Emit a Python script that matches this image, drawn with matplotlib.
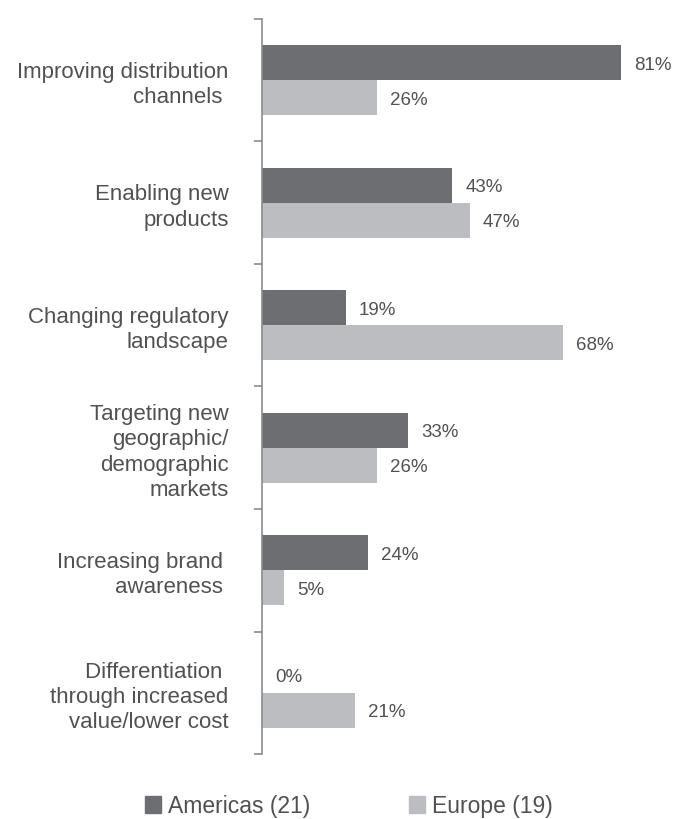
import matplotlib
matplotlib.use("Agg")
import matplotlib.pyplot as plt
from matplotlib.patches import Patch

plt.rcParams['font.family'] = ['Liberation Sans', 'DejaVu Sans']

categories = ["Improving distribution\nchannels ",
              "Enabling new\nproducts",
              "Changing regulatory\nlandscape",
              "Targeting new\ngeographic/\ndemographic\nmarkets",
              "Increasing brand \nawareness ",
              "Differentiation \nthrough increased\nvalue/lower cost"]
americas = [81, 43, 19, 33, 24, 0]
europe = [26, 47, 68, 26, 5, 21]
series_names = ["Americas (21)", "Europe (19)"]

dark = "#6d6e71"
light = "#bcbdc0"
txt = "#505153"

W, H = 676, 819
fig = plt.figure(figsize=(W / 100, H / 100), dpi=100)
ax = fig.add_axes([262 / W, (H - 754) / H, (W - 262) / W, 735 / H])

bh = 0.286
ys = list(range(len(categories)))
ax.barh([y - bh / 2 for y in ys], americas, height=bh, color=dark)
ax.barh([y + bh / 2 for y in ys], europe, height=bh, color=light)

for y, a, e in zip(ys, americas, europe):
    ax.text(a + 2.9, y - bh / 2 + 0.02, f"{a}%", va="center", ha="left", fontsize=13.5, color=txt)
    ax.text(e + 2.9, y + bh / 2 + 0.02, f"{e}%", va="center", ha="left", fontsize=13.5, color=txt)

ax.set_xlim(0, (W - 262) / 4.43)
ax.set_ylim(len(categories) - 0.5, -0.5)

for s in ["top", "right", "bottom"]:
    ax.spines[s].set_visible(False)
ax.spines["left"].set_color("#8a8b8e")
ax.spines["left"].set_linewidth(1.2)
ax.set_xticks([])
ax.set_yticks([y - 0.5 for y in range(len(categories) + 1)])
ax.set_yticklabels([])
ax.tick_params(axis="y", which="major", length=6, color="#8a8b8e", width=1.2)
ax.set_yticks(ys, minor=True)
ax.set_yticklabels(categories, minor=True, fontsize=16, color=txt, linespacing=1.27)
ax.tick_params(axis="y", which="minor", length=0, pad=24)

handles = [Patch(color=dark), Patch(color=light)]
fig.legend(handles, series_names, loc="center", bbox_to_anchor=(0.516, 13 / H), ncol=2,
           frameon=False, fontsize=16.5, labelcolor=txt, handlelength=0.7, handleheight=0.7,
           handletextpad=0.3, columnspacing=4.3)

fig.savefig("out.png", dpi=100)
